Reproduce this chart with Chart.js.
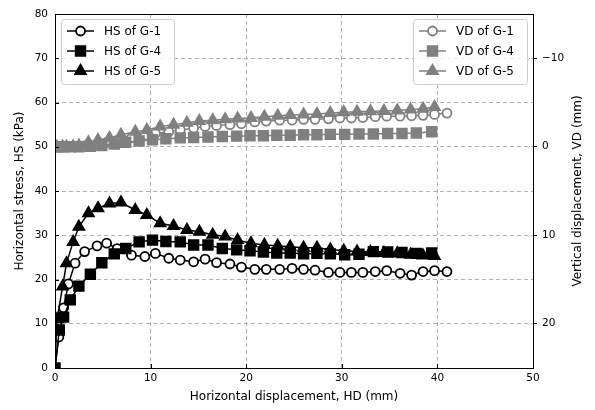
<!DOCTYPE html>
<html>
<head>
<meta charset="utf-8">
<script src="https://cdn.jsdelivr.net/npm/chart.js@4.4.1/dist/chart.umd.min.js"></script>
<style>
  html, body { margin: 0; padding: 0; background: #fff; }
</style>
</head>
<body>
<canvas id="chart-canvas" width="595" height="410"></canvas>
<script>
//------------------------ DATA ----------------------------

// G-1 (circles)
const hdG1 = [0, 0.4, 0.9, 1.4, 2.1, 3.1, 4.4, 5.4, 6.5, 8.0, 9.4, 10.5, 11.9, 13.1, 14.5, 15.7, 16.9, 18.3, 19.5, 20.9, 22.1, 23.5, 24.8, 26.0, 27.2, 28.6, 29.8, 31.0, 32.2, 33.5, 34.7, 36.1, 37.3, 38.5, 39.7, 41.0];
const hsG1 = [0, 7, 13.6, 19.0, 23.7, 26.3, 27.6, 28.2, 27.0, 25.5, 25.2, 25.9, 24.8, 24.4, 24.0, 24.6, 23.8, 23.5, 22.8, 22.3, 22.3, 22.3, 22.5, 22.3, 22.1, 21.6, 21.6, 21.6, 21.6, 21.8, 22.0, 21.4, 21.0, 21.8, 22.0, 21.8];
const vdG1 = [0, 0, 0, 0, 0, -0.1, -0.3, -0.5, -0.7, -1.0, -1.3, -1.5, -1.7, -1.9, -2.1, -2.3, -2.4, -2.5, -2.6, -2.8, -2.9, -3.0, -3.0, -3.1, -3.1, -3.15, -3.25, -3.25, -3.3, -3.4, -3.45, -3.45, -3.5, -3.55, -3.65, -3.8];

// G-4 (squares)
const hdG4 = [0, 0.45, 0.9, 1.6, 2.5, 3.7, 4.9, 6.2, 7.4, 8.8, 10.2, 11.6, 13.1, 14.5, 16.0, 17.5, 19.0, 20.4, 21.8, 23.2, 24.6, 26.0, 27.4, 28.8, 30.3, 31.8, 33.3, 34.8, 36.3, 37.8, 39.4];
const hsG4 = [0, 8.6, 11.5, 15.4, 18.5, 21.2, 23.8, 25.8, 27.0, 28.5, 28.9, 28.6, 28.5, 27.8, 27.8, 27.0, 26.7, 26.5, 26.2, 26.0, 26.0, 25.8, 25.9, 25.8, 25.6, 25.7, 26.3, 26.2, 26.1, 25.9, 26.0];
const vdG4 = [0, 0, 0, 0, 0, -0.05, -0.15, -0.3, -0.5, -0.65, -0.8, -0.9, -1.0, -1.05, -1.1, -1.15, -1.2, -1.25, -1.25, -1.3, -1.3, -1.35, -1.35, -1.4, -1.4, -1.45, -1.45, -1.5, -1.5, -1.55, -1.7];

// G-5 (triangles)
const hdG5 = [0, 0.2, 0.8, 1.2, 1.9, 2.5, 3.5, 4.5, 5.7, 6.9, 8.4, 9.6, 11.0, 12.4, 13.8, 15.1, 16.5, 17.8, 19.1, 20.5, 21.9, 23.3, 24.6, 26.0, 27.4, 28.8, 30.2, 31.6, 33.0, 34.4, 35.8, 37.2, 38.5, 39.7];
const hsG5 = [0, 11, 18.4, 23.7, 28.5, 31.9, 35.0, 36.1, 37.2, 37.4, 35.7, 34.6, 32.7, 32.1, 31.2, 30.8, 30.1, 29.7, 28.9, 28.2, 27.8, 27.6, 27.4, 27.2, 27.2, 26.8, 26.5, 26.3, 26.2, 26.0, 25.9, 25.6, 25.4, 25.3];
const vdG5 = [0, 0, 0, 0, -0.05, -0.15, -0.5, -0.75, -1.0, -1.35, -1.7, -1.9, -2.3, -2.5, -2.7, -2.9, -3.0, -3.1, -3.2, -3.25, -3.4, -3.5, -3.6, -3.65, -3.7, -3.8, -3.9, -3.95, -4.0, -4.05, -4.1, -4.2, -4.3, -4.5];

// Tick labels
const xTicks = [0, 10, 20, 30, 40, 50];
const leftTicks = [0, 10, 20, 30, 40, 50, 60, 70, 80];
const rightTicks = [-10, 0, 10, 20];

//------------------------ CHART ----------------------------

Chart.defaults.font.family = "DejaVu Sans";
Chart.defaults.color = "#000";

const BLACK = "#000000";
const GREY = "#808080";

function pts(xs, ys) {
  return xs.map((x, i) => ({ x: x, y: ys[i] }));
}

function series(label, xs, ys, axis, color, style, fill, radius, order) {
  return {
    label: label,
    data: pts(xs, ys),
    yAxisID: axis,
    showLine: true,
    borderColor: color,
    borderWidth: 1.5,
    pointStyle: style,
    pointRadius: radius,
    pointBorderColor: color,
    pointBackgroundColor: fill,
    pointBorderWidth: 1.8,
    clip: 0,
    order: order,
  };
}

// inward ticks on left/bottom, frame around plot area, right title
const framePlugin = {
  id: "frame",
  afterDatasetsDraw(chart) {
    const ctx = chart.ctx;
    const a = chart.chartArea;
    const xs = chart.scales.x;
    const ys = chart.scales.y;
    ctx.save();
    ctx.strokeStyle = BLACK;
    ctx.lineWidth = 1;
    ctx.beginPath();
    xTicks.forEach((v) => {
      const px = Math.round(xs.getPixelForValue(v)) + 0.5;
      ctx.moveTo(px, a.bottom);
      ctx.lineTo(px, a.bottom - 4);
    });
    leftTicks.forEach((v) => {
      const py = Math.round(ys.getPixelForValue(v)) + 0.5;
      ctx.moveTo(a.left, py);
      ctx.lineTo(a.left + 4, py);
    });
    ctx.stroke();
    ctx.strokeRect(Math.round(a.left) + 0.5, Math.round(a.top) + 0.5, Math.round(a.right - a.left), Math.round(a.bottom - a.top));

    // right axis title (reads bottom to top)
    ctx.fillStyle = BLACK;
    ctx.font = "12px 'DejaVu Sans'";
    ctx.textAlign = "center";
    ctx.textBaseline = "middle";
    ctx.translate(578, (a.top + a.bottom) / 2);
    ctx.rotate(-Math.PI / 2);
    ctx.fillText("Vertical displacement, VD (mm)", 0, 0);
    ctx.restore();
  },
};

// two legend boxes inside the plot
function drawLegendBox(chart, indices, bx, by, bw) {
  const ctx = chart.ctx;
  const bh = 65;
  ctx.save();
  ctx.beginPath();
  ctx.roundRect(bx + 0.5, by + 0.5, bw, bh, 3);
  ctx.fillStyle = "rgba(255,255,255,0.8)";
  ctx.fill();
  ctx.strokeStyle = "#cccccc";
  ctx.lineWidth = 1;
  ctx.stroke();
  indices.forEach((idx, row) => {
    const ds = chart.data.datasets[idx];
    const y = by + 12 + row * 20;
    ctx.strokeStyle = ds.borderColor;
    ctx.lineWidth = ds.borderWidth;
    ctx.beginPath();
    ctx.moveTo(bx + 6, y);
    ctx.lineTo(bx + 33, y);
    ctx.stroke();
    ctx.fillStyle = ds.pointBackgroundColor;
    ctx.strokeStyle = ds.pointBorderColor;
    ctx.lineWidth = ds.pointBorderWidth;
    Chart.helpers.drawPoint(ctx, {
      pointStyle: ds.pointStyle,
      rotation: 0,
      radius: ds.pointRadius,
      borderWidth: ds.pointBorderWidth,
    }, bx + 19.5, y);
    ctx.fillStyle = BLACK;
    ctx.font = "12px 'DejaVu Sans'";
    ctx.textAlign = "left";
    ctx.textBaseline = "middle";
    ctx.fillText(ds.label, bx + 43, y + 1);
  });
  ctx.restore();
}

const legendPlugin = {
  id: "legendBoxes",
  afterDraw(chart) {
    const a = chart.chartArea;
    drawLegendBox(chart, [0, 1, 2], a.left + 6, a.top + 5, 113);
    drawLegendBox(chart, [3, 4, 5], a.right - 6 - 114, a.top + 5, 114);
  },
};

const ctx = document.getElementById("chart-canvas").getContext("2d");
const myChart = new Chart(ctx, {
  type: "scatter",
  data: {
    datasets: [
      series("HS of G-1", hdG1, hsG1, "y", BLACK, "circle", "#ffffff", 4.5, 6),
      series("HS of G-4", hdG4, hsG4, "y", BLACK, "rect", BLACK, 6.8, 5),
      series("HS of G-5", hdG5, hsG5, "y", BLACK, "triangle", BLACK, 6.2, 4),
      series("VD of G-1", hdG1, vdG1, "y2", GREY, "circle", "#ffffff", 4.5, 3),
      series("VD of G-4", hdG4, vdG4, "y2", GREY, "rect", GREY, 6.8, 2),
      series("VD of G-5", hdG5, vdG5, "y2", GREY, "triangle", GREY, 6.2, 1),
    ],
  },
  options: {
    responsive: false,
    animation: false,
    layout: {
      padding: { top: 14, left: 0, right: 0, bottom: 0 },
    },
    plugins: {
      legend: { display: false },
      tooltip: { enabled: false },
    },
    scales: {
      x: {
        type: "linear",
        min: 0,
        max: 50,
        afterBuildTicks: (scale) => {
          scale.ticks = xTicks.map((v) => ({ value: v }));
        },
        afterFit: (scale) => {
          scale.height = 42;
        },
        grid: { color: "#b0b0b0", lineWidth: 1, drawTicks: false },
        border: { display: false, dash: [4, 3] },
        ticks: { font: { size: 10.5 }, padding: 4, maxRotation: 0, autoSkip: false },
        title: {
          display: true,
          text: "Horizontal displacement, HD (mm)",
          font: { size: 12 },
          padding: { top: 0, bottom: 6 },
        },
      },
      y: {
        type: "linear",
        position: "left",
        min: 0,
        max: 80,
        afterBuildTicks: (scale) => {
          scale.ticks = leftTicks.map((v) => ({ value: v }));
        },
        afterFit: (scale) => {
          scale.width = 55;
        },
        grid: { color: "#b0b0b0", lineWidth: 1, drawTicks: false },
        border: { display: false, dash: [4, 3] },
        ticks: { font: { size: 10.5 }, padding: 7, autoSkip: false },
        title: {
          display: true,
          text: "Horizontal stress, HS (kPa)",
          font: { size: 12 },
          padding: { top: 13, bottom: 0 },
        },
      },
      y2: {
        type: "linear",
        position: "right",
        reverse: true,
        min: -15,
        max: 25,
        afterBuildTicks: (scale) => {
          scale.ticks = rightTicks.map((v) => ({ value: v }));
        },
        afterFit: (scale) => {
          scale.width = 62;
        },
        grid: {
          drawOnChartArea: false,
          drawTicks: true,
          tickLength: 4,
          tickColor: BLACK,
          tickWidth: 1,
        },
        border: { display: false },
        ticks: {
          font: { size: 10.5 },
          padding: 5,
          autoSkip: false,
          callback: (v) => (v < 0 ? "\u2212" + Math.abs(v) : String(v)),
        },
      },
    },
  },
  plugins: [framePlugin, legendPlugin],
});
</script>
</body>
</html>
